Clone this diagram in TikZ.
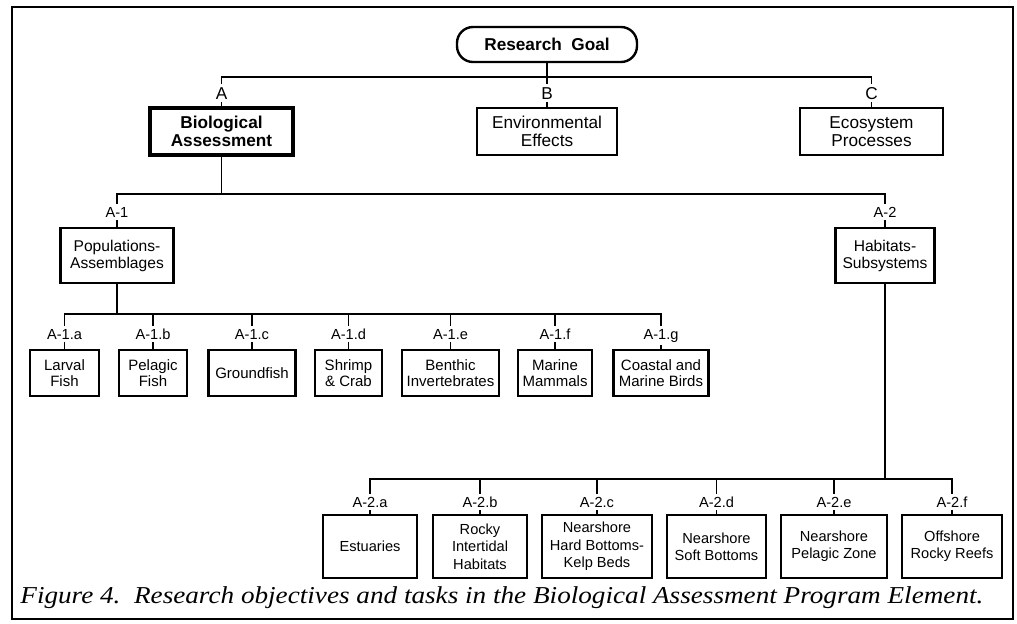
\documentclass[tikz,border=0pt]{standalone}
\usepackage{fontspec}
\setmainfont{Liberation Sans}
\newfontfamily\capfont{Liberation Serif}
\usetikzlibrary{positioning}

\tikzset{
  link/.style={line width=0.9pt},
  taskbox/.style={draw, line width=1.1pt, align=center, inner sep=0pt, fill=white},
  topbox/.style={taskbox, font=\fontsize{8.6}{9.2}\selectfont},
  midbox/.style={taskbox, font=\fontsize{7.8}{8.5}\selectfont},
  leafbox/.style={taskbox, font=\fontsize{7.5}{8.3}\selectfont},
  habbox/.style={taskbox, font=\fontsize{7.3}{8.7}\selectfont},
  code/.style={anchor=base, fill=white, inner xsep=1pt, inner ysep=1.4pt,
               font=\fontsize{7.3}{8}\selectfont},
  bigcode/.style={code, font=\fontsize{8.6}{9}\selectfont},
}

\begin{document}
\begin{tikzpicture}[x=0.5pt, y=-0.5pt]
\useasboundingbox (0,0) rectangle (1017,623);

% outer frame
\draw[line width=1.4pt] (12,7) rectangle (1013,619);

% levels of horizontal bars
\coordinate (r0) at (0,77);
\coordinate (r1) at (0,194);
\coordinate (r2) at (0,314);
\coordinate (r3) at (0,479);

% ---- nodes ----
\node[draw, line width=1.2pt, rounded corners=8pt, minimum width=90pt, minimum height=17.5pt,
      font=\bfseries\fontsize{8.6}{9}\selectfont] (goal) at (547,44.5) {Research\ \ Goal};

\node[topbox, line width=2pt, font=\bfseries\fontsize{8.6}{9.2}\selectfont,
      minimum width=71.5pt, minimum height=23.5pt] (bioA) at (221.5,131.5) {Biological\\Assessment};
\node[topbox, minimum width=70pt, minimum height=23.5pt] (envB) at (547,131.5) {Environmental\\Effects};
\node[topbox, minimum width=71.5pt, minimum height=23.5pt] (ecoC) at (871.5,131.5) {Ecosystem\\Processes};

\node[midbox, minimum width=56.5pt, minimum height=27.5pt] (pop) at (117,255.5) {Populations-\\Assemblages};
\node[midbox, minimum width=49.5pt, minimum height=27.5pt] (hab) at (885,255.5) {Habitats-\\Subsystems};

\node[leafbox, minimum width=34.5pt, minimum height=23pt] (larv) at (64.5,373) {Larval\\Fish};
\node[leafbox, minimum width=34pt, minimum height=23pt] (pela) at (153,373) {Pelagic\\Fish};
\node[leafbox, minimum width=43.5pt, minimum height=23pt] (grnd) at (252,373) {Groundfish};
\node[leafbox, minimum width=33.5pt, minimum height=23pt] (shri) at (348.5,373) {Shrimp\\\&\ Crab};
\node[leafbox, minimum width=48.5pt, minimum height=23pt] (bent) at (450.5,373) {Benthic\\Invertebrates};
\node[leafbox, minimum width=37pt, minimum height=23pt] (mamm) at (555,373) {Marine\\Mammals};
\node[leafbox, minimum width=47.5pt, minimum height=23pt] (bird) at (661,373) {Coastal and\\Marine Birds};

\node[habbox, minimum width=47pt, minimum height=31.5pt] (estu) at (370,546.5) {Estuaries};
\node[habbox, minimum width=47pt, minimum height=31.5pt] (rock) at (480,546.5) {Rocky\\Intertidal\\Habitats};
\node[habbox, minimum width=55pt, minimum height=31.5pt] (hard) at (597,546.5) {Nearshore\\Hard Bottoms-\\Kelp Beds};
\node[habbox, minimum width=49.5pt, minimum height=31.5pt] (soft) at (716.5,546.5) {Nearshore\\Soft Bottoms};
\node[habbox, minimum width=53pt, minimum height=31.5pt] (pzon) at (834,546.5) {Nearshore\\Pelagic Zone};
\node[habbox, minimum width=50pt, minimum height=31.5pt] (reef) at (952,546.5) {Offshore\\Rocky Reefs};

% ---- connectors ----
\draw[link] (goal.south) -- (goal.south |- r0);
\draw[link] (bioA.north) -- (bioA.north |- r0) -- (ecoC.north |- r0) -- (ecoC.north);
\draw[link] (envB.north) -- (envB.north |- r0);

\draw[link] (bioA.south) -- (bioA.south |- r1);
\draw[link] (pop.north) -- (pop.north |- r1) -- (hab.north |- r1) -- (hab.north);

\draw[link] (pop.south) -- (pop.south |- r2);
\draw[link] (larv.north) -- (larv.north |- r2) -- (bird.north |- r2) -- (bird.north);
\foreach \n in {pela,grnd,shri,bent,mamm}
  \draw[link] (\n.north) -- (\n.north |- r2);

\draw[link] (hab.south) -- (hab.south |- r3);
\draw[link] (estu.north) -- (estu.north |- r3) -- (reef.north |- r3) -- (reef.north);
\foreach \n in {rock,hard,soft,pzon}
  \draw[link] (\n.north) -- (\n.north |- r3);

% ---- codes on the connectors ----
\node[bigcode] (cA) at (bioA.north |- 0,99) {A};
\node[bigcode] (cB) at (envB.north |- 0,99) {B};
\node[bigcode] (cC) at (ecoC.north |- 0,99) {C};

\node[code] (c1) at (pop.north |- 0,217) {A-1};
\node[code] (c2) at (hab.north |- 0,217) {A-2};

\node[code] (c1a) at (larv.north |- 0,339) {A-1.a};
\node[code] (c1b) at (pela.north |- 0,339) {A-1.b};
\node[code] (c1c) at (grnd.north |- 0,339) {A-1.c};
\node[code] (c1d) at (shri.north |- 0,339) {A-1.d};
\node[code] (c1e) at (bent.north |- 0,339) {A-1.e};
\node[code] (c1f) at (mamm.north |- 0,339) {A-1.f};
\node[code] (c1g) at (bird.north |- 0,339) {A-1.g};

\node[code] (c2a) at (estu.north |- 0,507) {A-2.a};
\node[code] (c2b) at (rock.north |- 0,507) {A-2.b};
\node[code] (c2c) at (hard.north |- 0,507) {A-2.c};
\node[code] (c2d) at (soft.north |- 0,507) {A-2.d};
\node[code] (c2e) at (pzon.north |- 0,507) {A-2.e};
\node[code] (c2f) at (reef.north |- 0,507) {A-2.f};

% ---- caption ----
\node[anchor=west, inner sep=0pt] (cap) at (20,598)
  {\resizebox*{481.5pt}{11pt}{\capfont\itshape Figure 4.\ \ Research objectives and tasks in the Biological Assessment Program Element.}};

\end{tikzpicture}
\end{document}
